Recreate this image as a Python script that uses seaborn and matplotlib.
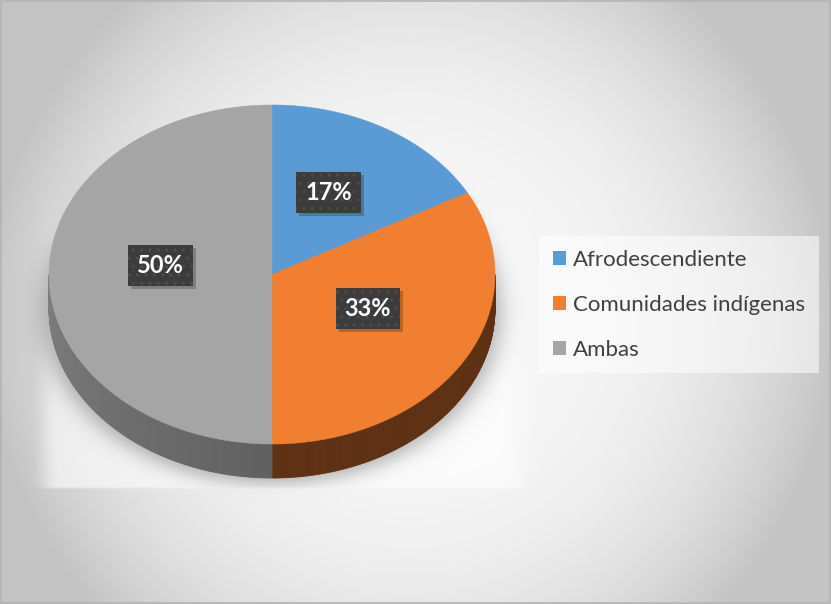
import numpy as np
import matplotlib
matplotlib.use("Agg")
import matplotlib.pyplot as plt
from matplotlib.patches import Polygon, Patch, Rectangle
import seaborn as sns

# ---- data -------------------------------------------------------------
categories = ["Afrodescendiente", "Comunidades indígenas", "Ambas"]
shares = [17, 33, 50]            # percent of respondents
share_labels = ["17%", "33%", "50%"]

# ---- styling ----------------------------------------------------------
sns.set_theme(style="white")
plt.rcParams["font.family"] = ["Lato", "DejaVu Sans"]
plt.rcParams["hatch.color"] = "#4d4d4d"
plt.rcParams["hatch.linewidth"] = 1.0

top_colors = sns.color_palette(["#5B9BD5", "#F07F32", "#A5A5A5"])
# rim colours per slice: (colour at 90°, colour at 270°) for the gradient
rim_colors = [("#2F5472", "#2F5472"), ("#5E3114", "#5E3114"), ("#424242", "#7E7E7E")]

W, H = 831, 604
fig = plt.figure(figsize=(W / 100, H / 100), dpi=100)
ax = fig.add_axes([0, 0, 1, 1])
ax.set_xlim(0, W)
ax.set_ylim(H, 0)
ax.axis("off")

# pie geometry (pixel space)
cx, cy, a, b, depth = 272.0, 274.5, 223.0, 169.5, 34.0

# ---- background: radial grey gradient, plot-area glow and pie shadow ----
yy, xx = np.mgrid[0:H, 0:W] + 0.5
r = np.hypot(xx - 410, yy - 320) / 430
g = np.clip(248 - 54 * r ** 3, 196, 248)


def smooth(v, lo, hi):
    s = np.clip((v - lo) / (hi - lo), 0, 1)
    return s * s * (3 - 2 * s)


# faint glow of the plot area around the lower part of the pie
glow = (smooth(xx, 30, 60) * (1 - smooth(xx, 500, 540))
        * smooth(yy, 180, 330) * (1 - smooth(yy, 486, 490)))
g = g + (255 - g) * 0.6 * glow

# soft shadow around the base of the pie
q = np.sqrt(((xx - cx) / (a + 6)) ** 2 + ((yy - cy - depth - 3) / (b + 3)) ** 2)
edge_px = (q - 1) * 175
shadow = 0.30 / (1 + np.exp(edge_px / 5.5))
shadow = shadow * (1 - smooth(yy, 486, 490) * 0.85)
g = g * (1 - shadow)

img = np.dstack([g, g, g]) / 255.0
ax.imshow(img, extent=(0, W, H, 0), interpolation="bilinear", zorder=0)
ax.add_patch(Rectangle((0.5, 0.5), W - 1.5, H - 1.5, fill=False,
                       edgecolor="#b4b4b4", lw=1.2, zorder=1))


def rim(t_deg, drop=0.0):
    t = np.radians(t_deg)
    return cx + a * np.sin(t), cy - b * np.cos(t) + drop


def mix(c1, c2, f):
    c1 = np.array(matplotlib.colors.to_rgb(c1))
    c2 = np.array(matplotlib.colors.to_rgb(c2))
    return tuple(c1 + (c2 - c1) * f)


# slice angle ranges, clockwise from 12 o'clock
bounds = np.concatenate([[0], np.cumsum(shares)]) / sum(shares) * 360.0

# ---- side walls (front half only) -------------------------------------
for i in range(len(shares)):
    lo, hi = max(bounds[i], 90.0), min(bounds[i + 1], 270.0)
    if hi <= lo:
        continue
    steps = np.linspace(lo, hi, int((hi - lo) * 2) + 2)
    for t0, t1 in zip(steps[:-1], steps[1:]):
        f = ((t0 + t1) / 2 - 90.0) / 180.0
        col = mix(rim_colors[i][0], rim_colors[i][1], f)
        x0, y0 = rim(t0)
        x1, y1 = rim(t1)
        ax.add_patch(Polygon([(x0, y0), (x1, y1), (x1, y1 + depth), (x0, y0 + depth)],
                             closed=True, facecolor=col, edgecolor=col, lw=0.6, zorder=2))

# ---- top face ------------------------------------------------------------
for i in range(len(shares)):
    ts = np.linspace(bounds[i], bounds[i + 1], 200)
    xs, ys = rim(ts)
    pts = [(cx, cy)] + list(zip(xs, ys))
    ax.add_patch(Polygon(pts, closed=True, facecolor=top_colors[i],
                         edgecolor=top_colors[i], lw=0.4, zorder=3))

# ---- data labels -----------------------------------------------------------
label_texts = []
for i, lab in enumerate(share_labels):
    mid = (bounds[i] + bounds[i + 1]) / 2
    lx, ly = rim(mid)
    lx = cx + (lx - cx) * 0.5
    ly = cy + (ly - cy) * 0.5 - 9
    t = ax.text(lx, ly, lab, ha="center", va="center", fontsize=17,
                fontweight="bold", color="white", zorder=5,
                bbox=dict(boxstyle="square,pad=0.38", facecolor="#3c3c3c",
                          edgecolor="#4d4d4d", linewidth=0, hatch=".."))
    label_texts.append(t)

# drop shadow behind each label box, sized from the rendered box
fig.canvas.draw()
renderer = fig.canvas.get_renderer()
inv = ax.transData.inverted()
for t in label_texts:
    ext = t.get_bbox_patch().get_window_extent(renderer)
    (x0, y0), (x1, y1) = inv.transform([[ext.x0, ext.y0], [ext.x1, ext.y1]])
    xmin, ymin = min(x0, x1), min(y0, y1)
    ax.add_patch(Rectangle((xmin + 3, ymin + 3), abs(x1 - x0), abs(y1 - y0),
                           facecolor="black", edgecolor="none", alpha=0.22, zorder=4))

# ---- legend ----------------------------------------------------------------
handles = [Patch(facecolor=top_colors[i], edgecolor="none") for i in range(len(categories))]
leg = ax.legend(handles, categories, loc="upper left",
                bbox_to_anchor=(539 / W, 1 - 236 / H), borderaxespad=0,
                fontsize=16, frameon=True, fancybox=False, framealpha=0.55,
                facecolor="white", edgecolor="none",
                handlelength=0.6, handleheight=0.6, handletextpad=0.3,
                labelspacing=1.12, borderpad=0.62)
for t in leg.get_texts():
    t.set_color("#404040")

fig.savefig("out.png", dpi=100)
